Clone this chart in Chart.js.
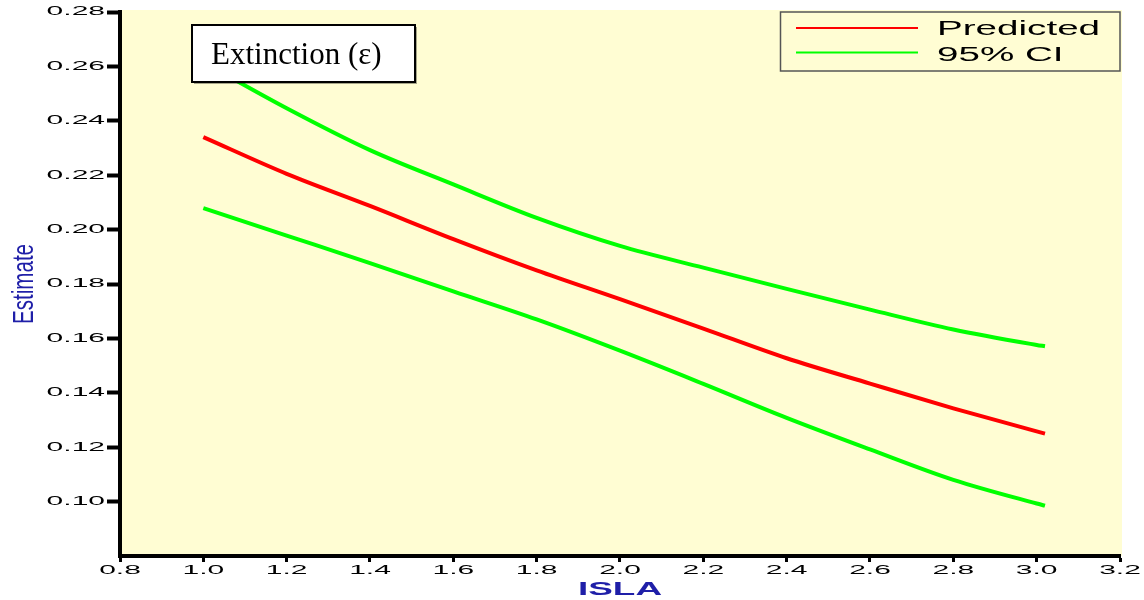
<!DOCTYPE html>
<html>
<head>
<meta charset="utf-8">
<title>Extinction estimate vs ISLA</title>
<script src="https://cdn.jsdelivr.net/npm/chart.js"></script>
<style>
  html, body { margin: 0; padding: 0; background: #fff; }
  #chart { display: block; }
</style>
</head>
<body>
<canvas id="chart" width="1144" height="600"></canvas>
<script>
// values
const islaValues = [1.0, 1.2, 1.4, 1.6, 1.8, 2.0, 2.2, 2.4, 2.6, 2.8, 3.0, 3.02];
const predicted  = [0.2340, 0.2205, 0.2087, 0.1965, 0.1850, 0.1744, 0.1636, 0.1527, 0.1434, 0.1343, 0.1258, 0.1250];
const ciUpper    = [0.2615, 0.2446, 0.2292, 0.2166, 0.2043, 0.1940, 0.1860, 0.1782, 0.1706, 0.1633, 0.1576, 0.1571];
const ciLower    = [0.2079, 0.1978, 0.1877, 0.1773, 0.1670, 0.1555, 0.1433, 0.1308, 0.1192, 0.1080, 0.0993, 0.0985];

const islaTicks = [0.8, 1.0, 1.2, 1.4, 1.6, 1.8, 2.0, 2.2, 2.4, 2.6, 2.8, 3.0, 3.2];
const estimateTicks = [0.10, 0.12, 0.14, 0.16, 0.18, 0.20, 0.22, 0.24, 0.26, 0.28];

const legendLabels = ['Predicted', '95% CI'];
const panelTitle = 'Extinction (\u03b5)';
const xTitle = 'ISLA';
const yTitle = 'Estimate';

const toPoints = (ys) => ys.map((v, i) => ({ x: islaValues[i], y: v }));

// the figure uses very wide (horizontally stretched) lettering
function stretchText(ctx, text, x, y, sx, align) {
    ctx.save();
    ctx.translate(x, y);
    ctx.scale(sx, 1);
    ctx.textAlign = align;
    ctx.fillText(text, 0, 0);
    ctx.restore();
}

const decorPlugin = {
    id: 'decor',
    beforeDraw(chart) {
        const { ctx, chartArea: a } = chart;
        ctx.save();
        ctx.fillStyle = '#FFFDD3';
        ctx.fillRect(a.left, a.top - 2, a.right - a.left + 2, a.bottom - a.top + 2);
        ctx.restore();
    },
    afterDatasetsDraw(chart) {
        const { ctx, chartArea: a } = chart;
        const ds = chart.data.datasets;
        ctx.save();

        // legend box, top right
        ctx.strokeStyle = '#555';
        ctx.lineWidth = 1.5;
        ctx.strokeRect(780.5, a.top, a.right - 780.5, 59);
        ctx.lineWidth = 2;
        [[ds[0].borderColor, 28], [ds[1].borderColor, 52.5]].forEach(([c, ly]) => {
            ctx.strokeStyle = c;
            ctx.beginPath();
            ctx.moveTo(796, ly);
            ctx.lineTo(918, ly);
            ctx.stroke();
        });
        ctx.fillStyle = '#000';
        ctx.font = '20px "Liberation Sans", Arial, sans-serif';
        ctx.textBaseline = 'alphabetic';
        stretchText(ctx, legendLabels[0], 937, 35, 1.93, 'left');
        stretchText(ctx, legendLabels[1], 937, 60.5, 1.93, 'left');

        // panel label box
        ctx.fillStyle = 'rgba(0,0,0,0.35)';
        ctx.fillRect(194, 27, 223, 57);
        ctx.fillStyle = '#fff';
        ctx.fillRect(192, 25, 223, 57);
        ctx.strokeStyle = '#000';
        ctx.lineWidth = 2;
        ctx.strokeRect(192, 25, 223, 57);
        ctx.fillStyle = '#000';
        ctx.font = '31px "Liberation Serif", "Times New Roman", serif';
        ctx.textAlign = 'left';
        ctx.fillText(panelTitle, 211, 63.5);
        ctx.restore();
    },
    afterDraw(chart) {
        const { ctx, scales: { x, y } } = chart;
        ctx.save();
        ctx.fillStyle = '#000';
        ctx.font = '12px "Liberation Sans", Arial, sans-serif';
        ctx.textBaseline = 'middle';
        y.ticks.forEach(t => {
            stretchText(ctx, t.value.toFixed(2), 105, y.getPixelForValue(t.value), 2.5, 'right');
        });
        x.ticks.forEach(t => {
            stretchText(ctx, t.value.toFixed(1), x.getPixelForValue(t.value), 571, 2.5, 'center');
        });

        // axis titles
        ctx.fillStyle = '#1F1FA8';
        ctx.font = 'bold 18px "Liberation Sans", Arial, sans-serif';
        ctx.textBaseline = 'alphabetic';
        stretchText(ctx, xTitle, (x.left + x.right) / 2, 595, 2.05, 'center');

        ctx.font = '20px "Liberation Sans", Arial, sans-serif';
        ctx.translate(33, (y.top + y.bottom) / 2);
        ctx.rotate(-Math.PI / 2);
        ctx.scale(1.03, 1.47);
        ctx.textAlign = 'center';
        ctx.fillText(yTitle, 0, 0);
        ctx.restore();
    }
};

new Chart(document.getElementById('chart'), {
    type: 'line',
    data: {
        datasets: [
            {
                label: legendLabels[0],
                data: toPoints(predicted),
                borderColor: '#FF0000',
                borderWidth: 4,
                pointRadius: 0,
                cubicInterpolationMode: 'monotone'
            },
            {
                label: legendLabels[1],
                data: toPoints(ciUpper),
                borderColor: '#00FF00',
                borderWidth: 4,
                pointRadius: 0,
                cubicInterpolationMode: 'monotone'
            },
            {
                label: legendLabels[1] + ' (lower)',
                data: toPoints(ciLower),
                borderColor: '#00FF00',
                borderWidth: 4,
                pointRadius: 0,
                cubicInterpolationMode: 'monotone'
            }
        ]
    },
    options: {
        responsive: false,
        animation: false,
        layout: { padding: { left: 0, right: 24, top: 12, bottom: 0 } },
        plugins: {
            legend: { display: false },
            tooltip: { enabled: false }
        },
        scales: {
            x: {
                type: 'linear',
                min: 0.8,
                max: 3.2,
                afterBuildTicks: s => { s.ticks = islaTicks.map(v => ({ value: v })); },
                afterFit: s => { s.height = 44; },
                ticks: { display: false },
                grid: { drawOnChartArea: false, drawTicks: true, tickLength: 6, tickWidth: 3, tickColor: '#000' },
                border: { color: '#000', width: 4 }
            },
            y: {
                min: 0.08,
                max: 0.28,
                afterBuildTicks: s => { s.ticks = estimateTicks.map(v => ({ value: v })); },
                afterFit: s => { s.width = 120; },
                ticks: { display: false },
                grid: { drawOnChartArea: false, drawTicks: true, tickLength: 13, tickWidth: 4, tickColor: '#000' },
                border: { color: '#000', width: 4 }
            }
        }
    },
    plugins: [decorPlugin]
});
</script>
</body>
</html>
